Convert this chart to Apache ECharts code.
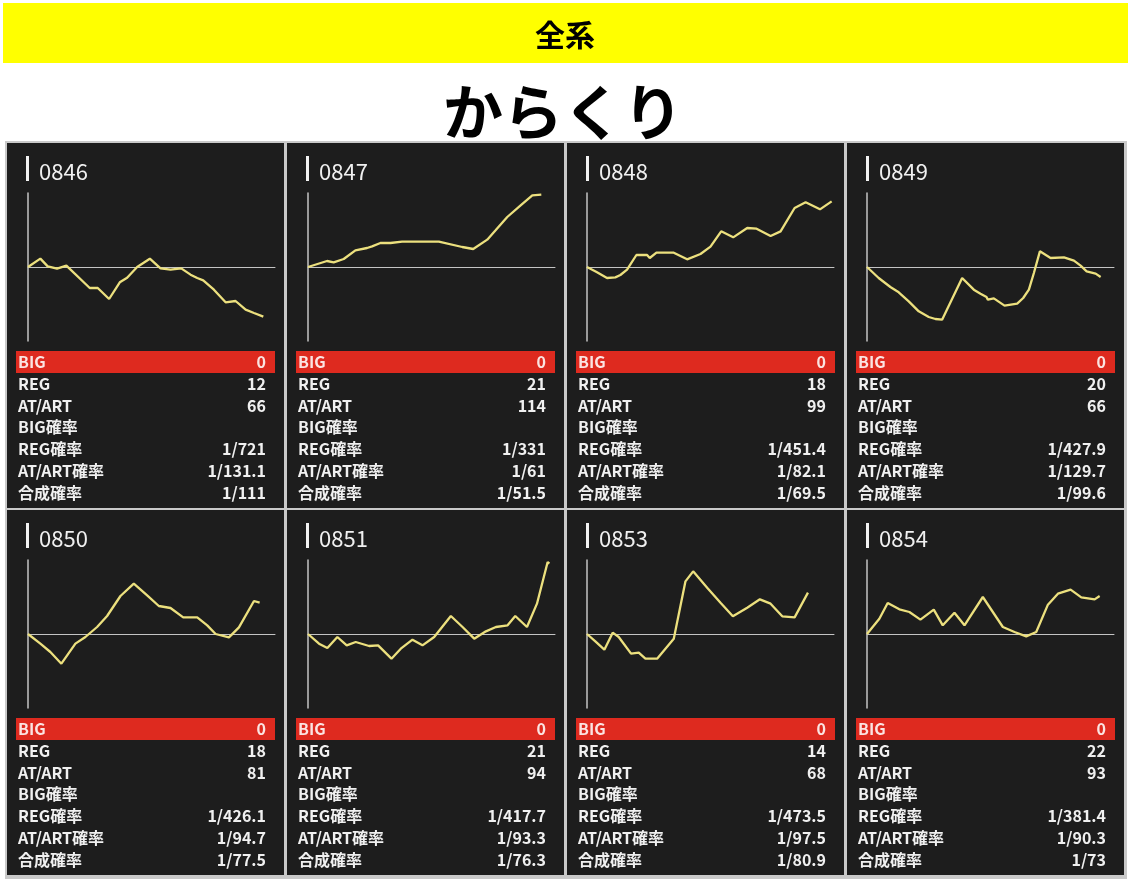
<!DOCTYPE html>
<html><head><meta charset="utf-8">
<script src="https://cdn.jsdelivr.net/npm/echarts@6/dist/echarts.min.js"></script>
<style>html,body{margin:0;padding:0;background:#fff}#c{width:1131px;height:885px}</style>
</head><body><div id="c"></div>
<script>
const headerText = '全系';
const machineName = 'からくり';
const machineIds = ['0846','0847','0848','0849','0850','0851','0853','0854'];
const statLabels = ['BIG','REG','AT/ART','BIG確率','REG確率','AT/ART確率','合成確率'];
const bigCounts = [0,0,0,0,0,0,0,0];
const regCounts = [12,21,18,20,18,21,14,22];
const atCounts = [66,114,99,66,81,94,68,93];
const bigProbs = ['','','','','','','',''];
const regProbs = ['1/721','1/331','1/451.4','1/427.9','1/426.1','1/417.7','1/473.5','1/381.4'];
const atProbs = ['1/131.1','1/61','1/82.1','1/129.7','1/94.7','1/93.3','1/97.5','1/90.3'];
const totalProbs = ['1/111','1/51.5','1/69.5','1/99.6','1/77.5','1/76.3','1/80.9','1/73'];

// slump data: [games, coin difference]
const diff0846 = [[0,0],[370,250],[590,20],[870,-50],[1150,40],[1850,-630],[2090,-630],[2430,-960],[2750,-460],[2970,-320],[3270,0],[3650,250],[3970,-40],[4270,-80],[4590,-40],[4870,-230],[5070,-330],[5250,-400],[5570,-680],[5920,-1060],[6220,-1020],[6520,-1280],[6770,-1380],[7050,-1490]];
const diff0847 = [[0,0],[570,180],[770,140],[1070,240],[1420,500],[1770,570],[1920,620],[2170,720],[2470,720],[2820,760],[3920,760],[4620,600],[4950,540],[5370,820],[5620,1100],[5970,1500],[6370,1850],[6720,2150],[6990,2170]];
const diff0848 = [[0,0],[300,-160],[600,-330],[850,-310],[1000,-240],[1200,-80],[1480,360],[1800,360],[1880,270],[2080,430],[2600,430],[3000,230],[3400,390],[3700,610],[4020,1070],[4380,890],[4800,1170],[5080,1150],[5500,930],[5800,1070],[6220,1770],[6550,1940],[6980,1730],[7330,1970]];
const diff0849 = [[0,0],[350,-330],[700,-600],[950,-760],[1250,-1030],[1550,-1330],[1850,-1500],[2050,-1560],[2250,-1580],[2850,-330],[3200,-680],[3400,-800],[3580,-900],[3620,-980],[3800,-940],[4120,-1160],[4500,-1100],[4680,-930],[4850,-680],[5000,-180],[5180,470],[5500,270],[5900,290],[6200,190],[6400,40],[6580,-130],[6850,-200],[7000,-300]];
const diff0850 = [[0,0],[370,-290],[670,-540],[1000,-890],[1420,-290],[1720,-90],[2070,210],[2370,540],[2770,1140],[3170,1510],[3570,1160],[3920,840],[4270,780],[4650,500],[5070,500],[5370,260],[5620,0],[6020,-100],[6320,200],[6770,990],[6940,940]];
const diff0851 = [[0,0],[330,-290],[580,-420],[880,-90],[1160,-340],[1430,-240],[1830,-360],[2100,-340],[2500,-740],[2780,-440],[3130,-170],[3430,-340],[3780,-90],[4280,540],[4630,210],[4980,-140],[5330,80],[5630,210],[5980,260],[6210,540],[6560,210],[6860,910],[7180,2160],[7230,2110]];
const diff0853 = [[0,0],[250,-220],[520,-470],[770,40],[950,-90],[1320,-590],[1550,-560],[1750,-740],[2100,-740],[2350,-440],[2600,-140],[2950,1580],[3180,1880],[3600,1390],[4000,940],[4370,530],[4800,790],[5180,1040],[5500,910],[5850,530],[6220,500],[6620,1240]];
const diff0854 = [[0,0],[370,460],[620,930],[970,740],[1270,660],[1600,430],[2000,730],[2270,260],[2620,640],[2920,260],[3470,1110],[4070,210],[4420,60],[4770,-70],[5070,60],[5420,880],[5720,1210],[6100,1330],[6420,1100],[6820,1040],[6970,1140]];
const slumps = [diff0846,diff0847,diff0848,diff0849,diff0850,diff0851,diff0853,diff0854];
const xMax = 7400;
const yLimit = 2220;

const chart = echarts.init(document.getElementById('c'), null, {renderer:'canvas'});
const JP = '"Noto Sans CJK JP","Noto Sans",sans-serif';
const grids = [], xAxes = [], yAxes = [], series = [];
const graphics = [];

graphics.push({type:'rect', z:-20, shape:{x:3,y:3,width:1125,height:60}, style:{fill:'#ffff00'}});
graphics.push({type:'text', x:565, y:35, style:{text:headerText, font:'bold 30px '+JP, fill:'#000', align:'center', verticalAlign:'middle'}});
graphics.push({type:'text', x:563, y:112, style:{text:machineName, font:'bold 60px '+JP, fill:'#000', align:'center', verticalAlign:'middle'}});
graphics.push({type:'rect', z:-20, shape:{x:5,y:141,width:1122,height:738}, style:{fill:'#c9c9c9'}});

machineIds.forEach((id, i) => {
  const c = i % 4, r = Math.floor(i / 4);
  const L = 7 + 280 * c, T = 143 + 367 * r;
  graphics.push({type:'rect', z:-10, shape:{x:L, y:T, width:277, height:365}, style:{fill:'#1d1d1d'}});
  graphics.push({type:'rect', shape:{x:L+19, y:T+13, width:3, height:25}, style:{fill:'#f2f2f2'}});
  graphics.push({type:'text', x:L+32, y:T+29, style:{text:id, font:'22px '+JP, fill:'#f0f0f0', verticalAlign:'middle'}});
  graphics.push({type:'rect', shape:{x:L+9, y:T+208, width:259, height:22}, style:{fill:'#de2a1f'}});
  const vals = [String(bigCounts[i]), String(regCounts[i]), String(atCounts[i]), bigProbs[i], regProbs[i], atProbs[i], totalProbs[i]];
  statLabels.forEach((lab, k) => {
    const y = T + 219 + k * 21.8;
    graphics.push({type:'text', x:L+11, y:y, style:{text:lab, font:'bold 16px '+JP, fill:k===0?'#fbe4e2':'#f0f0f0', verticalAlign:'middle'}});
    graphics.push({type:'text', x:L+259, y:y, style:{text:vals[k], font:'bold 16px '+JP, fill:k===0?'#fbe4e2':'#f0f0f0', align:'right', verticalAlign:'middle'}});
  });
  const gl = L + (c < 2 ? 21 : 20);
  grids.push({left:gl, top:T+50, width:247, height:148, containLabel:false});
  xAxes.push({type:'value', gridIndex:i, min:0, max:xMax, axisLine:{show:true, onZero:true, lineStyle:{color:'#c4c4c4', width:1}}, axisTick:{show:false}, axisLabel:{show:false}, splitLine:{show:false}});
  yAxes.push({type:'value', gridIndex:i, min:-yLimit, max:yLimit, axisLine:{show:true, onZero:false, lineStyle:{color:'#c4c4c4', width:1.5}}, axisTick:{show:false}, axisLabel:{show:false}, splitLine:{show:false}});
  series.push({type:'line', xAxisIndex:i, yAxisIndex:i, data:slumps[i], showSymbol:false, symbol:'none', lineStyle:{color:'#ece07e', width:2.3}, z:5});
});

chart.setOption({
  animation:false,
  backgroundColor:'#ffffff',
  grid:grids, xAxis:xAxes, yAxis:yAxes, series:series,
  graphic:{elements:graphics}
});
</script></body></html>
